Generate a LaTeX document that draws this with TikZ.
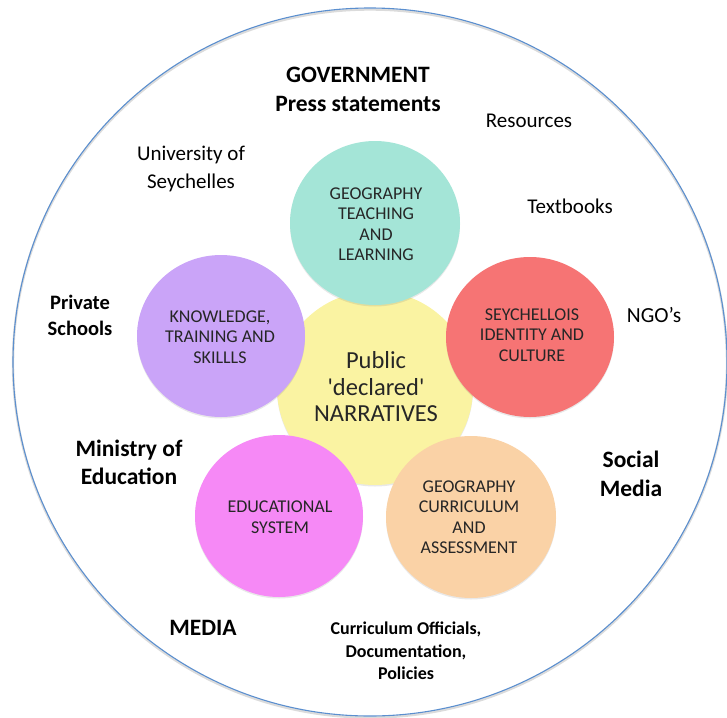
\documentclass[tikz,border=0pt]{standalone}
\usepackage{fontspec}
\setmainfont{Carlito}
\usetikzlibrary{shadows}

\definecolor{ringblue}{RGB}{91,143,207}
\definecolor{centrefill}{RGB}{250,243,162}
\definecolor{tealfill}{RGB}{164,229,215}
\definecolor{lilacfill}{RGB}{202,164,248}
\definecolor{redfill}{RGB}{246,116,116}
\definecolor{pinkfill}{RGB}{246,137,246}
\definecolor{peachfill}{RGB}{250,210,166}

\begin{document}
\begin{tikzpicture}[x=10pt,y=10pt]
\tikzstyle{every node}+=[inner sep=0pt,align=center]
\tikzstyle{bubble}=[drop shadow={opacity=0.18,shadow xshift=0pt,shadow yshift=-1.5pt}]
\tikzstyle{petaltext}=[font=\fontsize{18}{20.5}\selectfont,text=black!85]
\tikzstyle{hubtext}=[font=\fontsize{24.5}{26.5}\selectfont,text=black!85]
\tikzstyle{plain}=[font=\fontsize{21}{28}\selectfont]
\tikzstyle{bigbold}=[font=\fontsize{23.5}{29}\selectfont\bfseries]
\useasboundingbox (0,0) rectangle (72.7,-71.7);
% outer ring
\draw [black!40,opacity=0.35,line width=2.4pt] (37,-36.35) ellipse (35.7 and 35.4);
\draw [ringblue,line width=1.1pt] (37,-36.2) ellipse (35.7 and 35.4);
% hub and petals
\fill [centrefill,bubble] (37.5,-38.8) ellipse (9.8 and 9.7);
\fill [tealfill,bubble] (37.5,-22.3) ellipse (8.5 and 8.2);
\fill [lilacfill,bubble] (22.1,-33.6) ellipse (8.4 and 8.1);
\fill [redfill,bubble] (53,-33.7) ellipse (8.4 and 8);
\fill [pinkfill,bubble] (27.9,-51.6) ellipse (8.4 and 8.1);
\fill [peachfill,bubble] (47.1,-51.7) ellipse (8.5 and 8.1);
\node [hubtext] (hub) at (37.6,-38.7) {Public\\\textquotesingle declared\textquotesingle\\NARRATIVES};
\node [petaltext] (teach) at (37.6,-22.4) {GEOGRAPHY\\TEACHING\\AND\\LEARNING};
\node [petaltext] (skills) at (22,-33.7) {KNOWLEDGE,\\TRAINING AND\\SKILLLS};
\node [petaltext] (ident) at (53.2,-33.5) {SEYCHELLOIS\\IDENTITY AND\\CULTURE};
\node [petaltext] (system) at (28,-51.7) {EDUCATIONAL\\SYSTEM};
\node [petaltext] (curric) at (46.9,-51.7) {GEOGRAPHY\\CURRICULUM\\AND\\ASSESSMENT};
% actors around the ring
\node [bigbold] (gov) at (35.8,-8.9) {GOVERNMENT\\Press statements};
\node [plain] (res) at (52.9,-12.1) {Resources};
\node [plain] (uni) at (19.1,-16.9) {University of\\Seychelles};
\node [plain] (books) at (57,-20.6) {Textbooks};
\node [font=\fontsize{20.5}{26}\selectfont\bfseries] (priv) at (8,-31.5) {Private\\Schools};
\node [font=\fontsize{21.5}{28}\selectfont] (ngo) at (65.4,-31.5) {NGO’s};
\node [font=\fontsize{23.5}{28}\selectfont\bfseries] (moe) at (12.9,-46.2) {Ministry of\\Education};
\node [bigbold] (social) at (63.1,-47.4) {Social\\Media};
\node [bigbold] (media) at (20.3,-62.8) {MEDIA};
\node [font=\fontsize{18}{22.5}\selectfont\bfseries] (offic) at (40.6,-65.1) {Curriculum Officials,\\Documentation,\\Policies};
\end{tikzpicture}
\end{document}
